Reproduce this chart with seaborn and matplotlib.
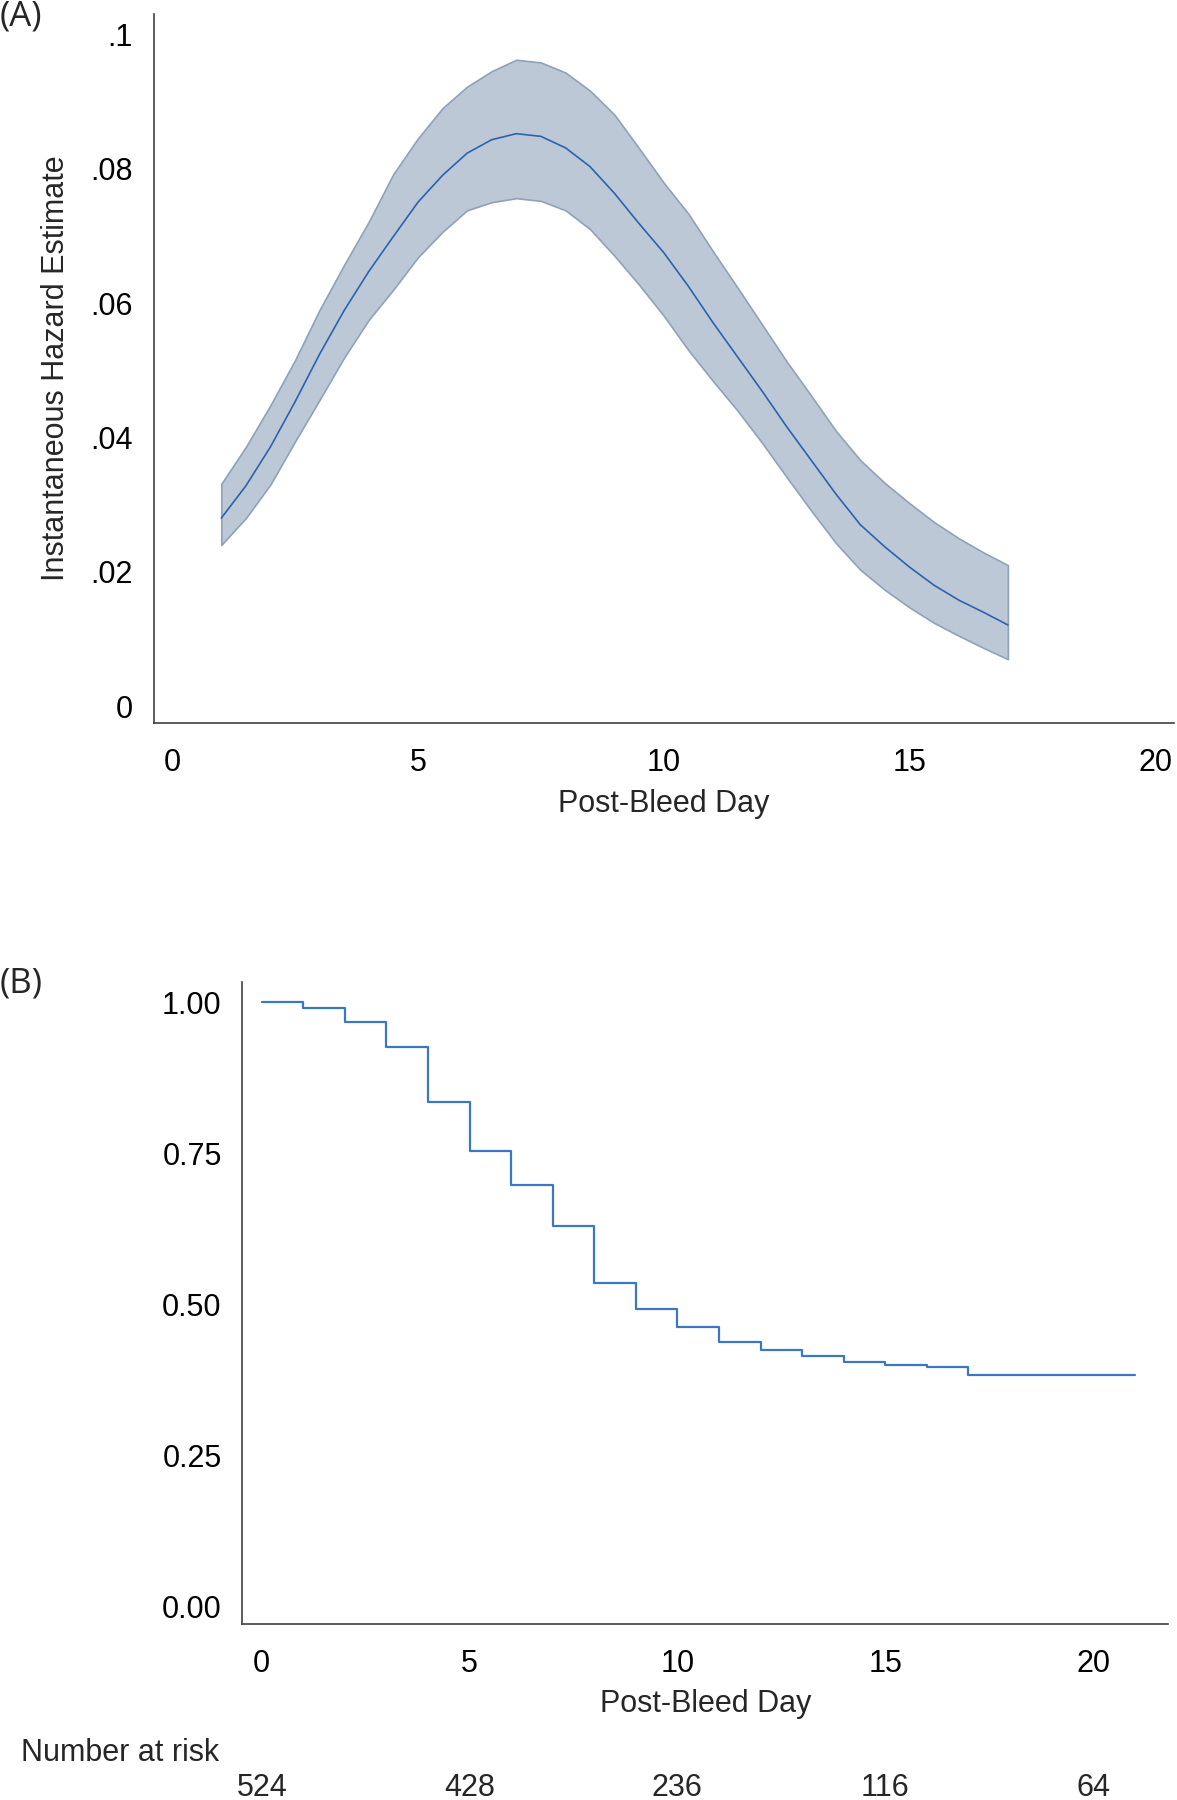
"""
Two-panel figure: (A) smoothed hazard estimate with CI band,
(B) Kaplan-Meier style step curve with number at risk.
"""
import numpy as np
import pandas as pd
import matplotlib
matplotlib.use("Agg")
import matplotlib.pyplot as plt
import matplotlib.transforms as mtransforms
import seaborn as sns

# ── data: panel A (hazard) ───────────────────────────────────────────────────
DAYS = [1.0, 1.5, 2.0, 2.5, 3.0, 3.5, 4.0, 4.5, 5.0, 5.5, 6.0, 6.5, 7.0, 7.5,
        8.0, 8.5, 9.0, 9.5, 10.0, 10.5, 11.0, 11.5, 12.0, 12.5, 13.0, 13.5,
        14.0, 14.5, 15.0, 15.5, 16.0, 16.5, 17.0]
HAZARD = [0.0280, 0.0328, 0.0386, 0.0453, 0.0524, 0.0589, 0.0647, 0.0699,
          0.0750, 0.0790, 0.0823, 0.0843, 0.0852, 0.0848, 0.0831, 0.0803,
          0.0763, 0.0718, 0.0675, 0.0625, 0.0571, 0.0520, 0.0469, 0.0416,
          0.0366, 0.0316, 0.0270, 0.0237, 0.0207, 0.0180, 0.0158, 0.0140,
          0.0121]
HAZARD_HI = [0.0331, 0.0386, 0.0448, 0.0515, 0.0590, 0.0657, 0.0721, 0.0792,
             0.0845, 0.0890, 0.0922, 0.0945, 0.0962, 0.0958, 0.0943, 0.0916,
             0.0880, 0.0830, 0.0779, 0.0733, 0.0677, 0.0623, 0.0568, 0.0513,
             0.0462, 0.0410, 0.0366, 0.0332, 0.0302, 0.0274, 0.0250, 0.0229,
             0.0210]
HAZARD_LO = [0.0240, 0.0280, 0.0330, 0.0394, 0.0456, 0.0519, 0.0575, 0.0620,
             0.0668, 0.0706, 0.0738, 0.0750, 0.0756, 0.0752, 0.0738, 0.0710,
             0.0670, 0.0627, 0.0581, 0.0530, 0.0484, 0.0440, 0.0392, 0.0341,
             0.0291, 0.0243, 0.0203, 0.0173, 0.0147, 0.0124, 0.0105, 0.0087,
             0.0070]
A_YTICKS = [0, 0.02, 0.04, 0.06, 0.08, 0.1]
A_YLABELS = ["0", ".02", ".04", ".06", ".08", ".1"]

# ── data: panel B (survival) ─────────────────────────────────────────────────
KM_DAYS = [0, 1, 2, 3, 4, 5, 6, 7, 8, 9, 10, 11, 12, 13, 14, 15, 16, 17, 21]
KM_SURV = [1.000, 0.991, 0.967, 0.926, 0.835, 0.754, 0.697, 0.630, 0.535,
           0.492, 0.463, 0.438, 0.425, 0.415, 0.404, 0.400, 0.396, 0.383,
           0.383]
B_YTICKS = [0, 0.25, 0.5, 0.75, 1.0]
B_YLABELS = ["0.00", "0.25", "0.50", "0.75", "1.00"]

X_TICKS = [0, 5, 10, 15, 20]
RISK_DAYS = [0, 5, 10, 15, 20]
RISK_N = [524, 428, 236, 116, 64]

# ── style ────────────────────────────────────────────────────────────────────
sns.set_theme(style="white")
plt.rcParams["font.family"] = ["Liberation Sans", "DejaVu Sans"]
FS = 22
SPINE = "#404040"
BAND_FILL = "#bcc8d5"
BAND_EDGE = "#8ea2b8"
LINE_A = "#2a63b0"
LINE_B = "#3a78c2"

fig = plt.figure(figsize=(11.77, 18.0), dpi=100)
ax_a = fig.add_axes([0.1308, 0.5983, 0.8667, 0.3939])
ax_b = fig.add_axes([0.2060, 0.0979, 0.7863, 0.3566])


def style_axes(ax):
    sns.despine(ax=ax)
    for side in ("left", "bottom"):
        ax.spines[side].set_color(SPINE)
        ax.spines[side].set_linewidth(1.2)
    ax.tick_params(axis="both", length=0, labelsize=FS, colors="black")
    ax.tick_params(axis="y", pad=15)
    ax.tick_params(axis="x", pad=18)
    ax.grid(False)


# ── panel A ──────────────────────────────────────────────────────────────────
haz = pd.DataFrame({"day": DAYS, "h": HAZARD, "lo": HAZARD_LO, "hi": HAZARD_HI})
ax_a.fill_between(haz["day"], haz["lo"], haz["hi"], facecolor=BAND_FILL,
                  edgecolor=BAND_EDGE, linewidth=1.2)
sns.lineplot(data=haz, x="day", y="h", ax=ax_a, color=LINE_A, linewidth=1.2)
ax_a.set_xlim(-0.37, 20.38)
ax_a.set_ylim(-0.0025, 0.103)
ax_a.set_xticks(X_TICKS, [str(t) for t in X_TICKS])
ax_a.set_yticks(A_YTICKS, A_YLABELS)
ax_a.set_xlabel("Post-Bleed Day", fontsize=FS, labelpad=8)
ax_a.set_ylabel("Instantaneous Hazard Estimate", fontsize=FS, labelpad=14)
style_axes(ax_a)

# ── panel B ──────────────────────────────────────────────────────────────────
km = pd.DataFrame({"day": KM_DAYS, "s": KM_SURV})
sns.lineplot(data=km, x="day", y="s", ax=ax_b, color=LINE_B, linewidth=1.6,
             drawstyle="steps-post")
ax_b.set_xlim(-0.464, 21.8)
ax_b.set_ylim(-0.0285, 1.034)
ax_b.set_xticks(X_TICKS, [str(t) for t in X_TICKS])
ax_b.set_yticks(B_YTICKS, B_YLABELS)
ax_b.set_xlabel("Post-Bleed Day", fontsize=FS, labelpad=7)
ax_b.set_ylabel("")
style_axes(ax_b)

# number at risk table under panel B
trans = mtransforms.blended_transform_factory(ax_b.transData, fig.transFigure)
fig.text(0.0178, 0.0261, "Number at risk", fontsize=FS, ha="left", va="center")
for d, n in zip(RISK_DAYS, RISK_N):
    ax_b.text(d, 0.0067, str(n), transform=trans, fontsize=FS,
              ha="center", va="center", clip_on=False)

# panel tags
fig.text(0.0, 0.9908, "(A)", fontsize=25, family=["Open Sans", "DejaVu Sans"],
         ha="left", va="center")
fig.text(0.0, 0.4535, "(B)", fontsize=25, family=["Open Sans", "DejaVu Sans"],
         ha="left", va="center")

fig.savefig("out.png", dpi=100)
